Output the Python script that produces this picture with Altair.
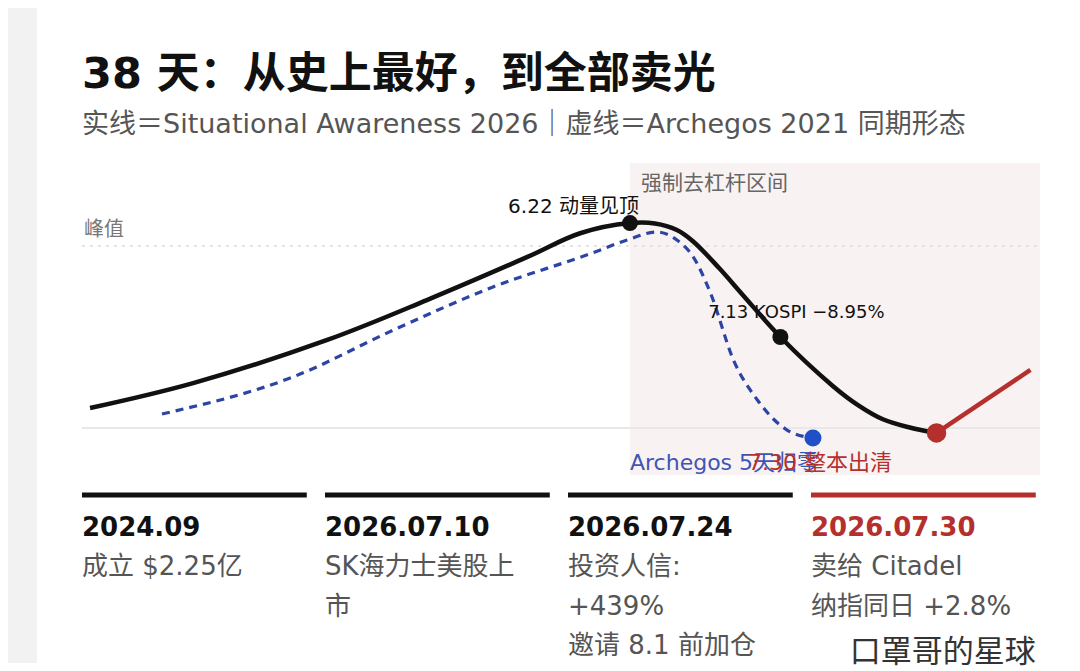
import altair as alt
import pandas as pd

FONT = "'DejaVu Sans', 'Noto Sans CJK SC', sans-serif"

# ---- data ----
solid_x = [0.84, 11.6, 25.6, 36.0, 46.5, 52.0, 57.2, 59.8, 62.1, 63.8, 66.5, 69.0, 72.9, 78.4, 81.0, 83.6, 86.4, 89.2]
solid_y = [11.0, 24.7, 48.4, 70.3, 94.0, 107.0, 112.6, 112.4, 108.8, 102.5, 87.9, 73.0, 50.0, 23.0, 12.6, 4.8, 0.3, -2.7]

dashed_x = [8.35, 22.0, 32.5, 42.9, 53.3, 56.9, 60.0, 62.1, 63.8, 65.6, 68.0, 70.5, 73.6, 76.3]
dashed_y = [7.7, 28.0, 53.8, 77.5, 96.2, 103.3, 107.7, 103.3, 94.0, 74.2, 37.4, 15.4, -1.1, -5.5]

red_x = [89.2, 99.0]
red_y = [-2.7, 31.9]

event_x = [57.2, 72.9]
event_y = [112.6, 50.0]
event_label = ["6.22 动量见顶", "7.13 KOSPI −8.95%"]

shade_start, shade_end = 57.2, 100.0
peak_level = 100.0

title_text = "38 天：从史上最好，到全部卖光"
subtitle_text = "实线＝Situational Awareness 2026｜虚线＝Archegos 2021 同期形态"

card_dates = ["2024.09", "2026.07.10", "2026.07.24", "2026.07.30"]
card_lines = [
    ["成立 $2.25亿"],
    ["SK海力士美股上", "市"],
    ["投资人信:", "+439%", "邀请 8.1 前加仓"],
    ["卖给 Citadel", "纳指同日 +2.8%"],
]
watermark = "口罩哥的星球"

RED = "#b5302c"
W = 958
H = 312
xs = alt.Scale(domain=[0, 100])
ys = alt.Scale(domain=[-25.8, 145.6])
one = pd.DataFrame({"a": [0]})

# ---- left strip ----
strip = alt.Chart(one).mark_rect(color="#f2f2f2").encode(
    x=alt.value(0), x2=alt.value(29), y=alt.value(0), y2=alt.value(655)
).properties(width=29, height=655)

# ---- header ----
hdr_title = alt.Chart(one).mark_text(
    font=FONT, fontSize=43, fontWeight="bold", color="#111111", align="left", baseline="middle"
).encode(x=alt.value(0), y=alt.value(67), text=alt.value(title_text))
hdr_sub = alt.Chart(one).mark_text(
    font=FONT, fontSize=27, color="#555555", align="left", baseline="middle"
).encode(x=alt.value(0), y=alt.value(117), text=alt.value(subtitle_text))
header = alt.layer(hdr_title, hdr_sub).properties(width=W, height=150)

# ---- main panel ----
def X(f="x"):
    return alt.X(f"{f}:Q", scale=xs, axis=None)

def Y(f="y"):
    return alt.Y(f"{f}:Q", scale=ys, axis=None)

shade = alt.Chart(pd.DataFrame({"x0": [shade_start], "x1": [shade_end]})).mark_rect(
    color="#f9f2f2"
).encode(x=X("x0"), x2="x1:Q", y=alt.value(0), y2=alt.value(H))

peak_rule = alt.Chart(pd.DataFrame({"y": [peak_level], "x0": [0], "x1": [100]})).mark_rule(
    color="#dcdcdc", strokeWidth=1.5, strokeDash=[3, 5]
).encode(x=X("x0"), x2="x1:Q", y=Y())

base_rule = alt.Chart(pd.DataFrame({"y": [0], "x0": [0], "x1": [100]})).mark_rule(
    color="#e8e8e8", strokeWidth=2
).encode(x=X("x0"), x2="x1:Q", y=Y())

dashed = alt.Chart(pd.DataFrame({"x": dashed_x, "y": dashed_y})).mark_line(
    color="#2c44a4", strokeWidth=3.2, strokeDash=[8, 6], interpolate="monotone"
).encode(x=X(), y=Y())

solid = alt.Chart(pd.DataFrame({"x": solid_x, "y": solid_y})).mark_line(
    color="#111111", strokeWidth=4.5, interpolate="catmull-rom"
).encode(x=X(), y=Y())

red = alt.Chart(pd.DataFrame({"x": red_x, "y": red_y})).mark_line(
    color=RED, strokeWidth=4.5
).encode(x=X(), y=Y())

ev_pts = alt.Chart(pd.DataFrame({"x": event_x, "y": event_y})).mark_circle(
    color="#111111", size=256, opacity=1
).encode(x=X(), y=Y())
blue_pt = alt.Chart(pd.DataFrame({"x": [dashed_x[-1]], "y": [dashed_y[-1]]})).mark_circle(
    color="#2050c8", size=290, opacity=1
).encode(x=X(), y=Y())
red_pt = alt.Chart(pd.DataFrame({"x": [red_x[0]], "y": [red_y[0]]})).mark_circle(
    color=RED, size=380, opacity=1
).encode(x=X(), y=Y())


def label(x, y, t, **kw):
    df = pd.DataFrame({"x": [x], "y": [y], "t": [t]})
    return alt.Chart(df).mark_text(font=FONT, baseline="middle", **kw).encode(
        x=X(), y=Y(), text="t:N"
    )


lab_peak = label(event_x[0], event_y[0], event_label[0],
                 align="right", dx=9, dy=-16, fontSize=20, color="#111111")
lab_kospi = label(event_x[1], event_y[1], event_label[1],
                  align="center", dx=16, dy=-24, fontSize=18, color="#111111")
lab_zone = label(shade_start, 134.0, "强制去杠杆区间",
                 align="left", dx=11, fontSize=21, color="#666666")
lab_peakline = label(0, 108.8, "峰值", align="left", dx=2, fontSize=20, color="#777777")
lab_arch = label(shade_start, -19.2, "Archegos 5天归零",
                 align="left", fontSize=22, color="#3d55b5")
lab_sold = label(84.55, -19.2, "7.30 整本出清", align="right", fontSize=22, color=RED)

main = alt.layer(
    shade, peak_rule, base_rule, dashed, solid, red,
    ev_pts, blue_pt, red_pt,
    lab_peak, lab_kospi, lab_zone, lab_peakline, lab_arch, lab_sold,
).properties(width=W, height=H)

# ---- cards panel ----
cxs = alt.Scale(domain=[0, W / 243.0])
cys = alt.Scale(domain=[-1.215, 3.342], reverse=True)
CH = 180
is_red = [i == 3 for i in range(4)]

bars = pd.DataFrame({
    "c0": list(range(4)),
    "c1": [i + 0.925 for i in range(4)],
    "r": [-0.835] * 4,
    "red": is_red,
})
bar_layer = alt.Chart(bars).mark_rule(strokeWidth=5).encode(
    x=alt.X("c0:Q", scale=cxs, axis=None), x2="c1:Q",
    y=alt.Y("r:Q", scale=cys, axis=None),
    color=alt.Color("red:N", scale=alt.Scale(domain=[False, True], range=["#111111", RED]), legend=None),
)

dates = pd.DataFrame({"c": list(range(4)), "r": [0] * 4, "t": card_dates, "red": is_red})
date_layer = alt.Chart(dates).mark_text(
    font=FONT, fontSize=26, fontWeight="bold", align="left", baseline="middle"
).encode(
    x=alt.X("c:Q", scale=cxs, axis=None), y=alt.Y("r:Q", scale=cys, axis=None), text="t:N",
    color=alt.Color("red:N", scale=alt.Scale(domain=[False, True], range=["#111111", "#b03030"]), legend=None),
)

rows = []
for ci, lines in enumerate(card_lines):
    for li, t in enumerate(lines):
        rows.append({"c": ci, "r": li + 1, "t": t})
body_layer = alt.Chart(pd.DataFrame(rows)).mark_text(
    font=FONT, fontSize=26, align="left", baseline="middle", color="#555555"
).encode(x=alt.X("c:Q", scale=cxs, axis=None), y=alt.Y("r:Q", scale=cys, axis=None), text="t:N")

wm = alt.Chart(pd.DataFrame({"c": [3.925], "r": [3.165], "t": [watermark]})).mark_text(
    font=FONT, fontSize=31, align="right", baseline="middle", color="#333333"
).encode(x=alt.X("c:Q", scale=cxs, axis=None), y=alt.Y("r:Q", scale=cys, axis=None), text="t:N")

cards = alt.layer(bar_layer, date_layer, body_layer, wm).properties(width=W, height=CH)

inner = alt.vconcat(header, main, cards, spacing=5, bounds="flush")
chart = alt.hconcat(strip, inner, spacing=45, bounds="flush").properties(
    padding=0
).configure_view(stroke=None)

chart.save("out.html", embed_options={"renderer": "svg", "actions": False})
